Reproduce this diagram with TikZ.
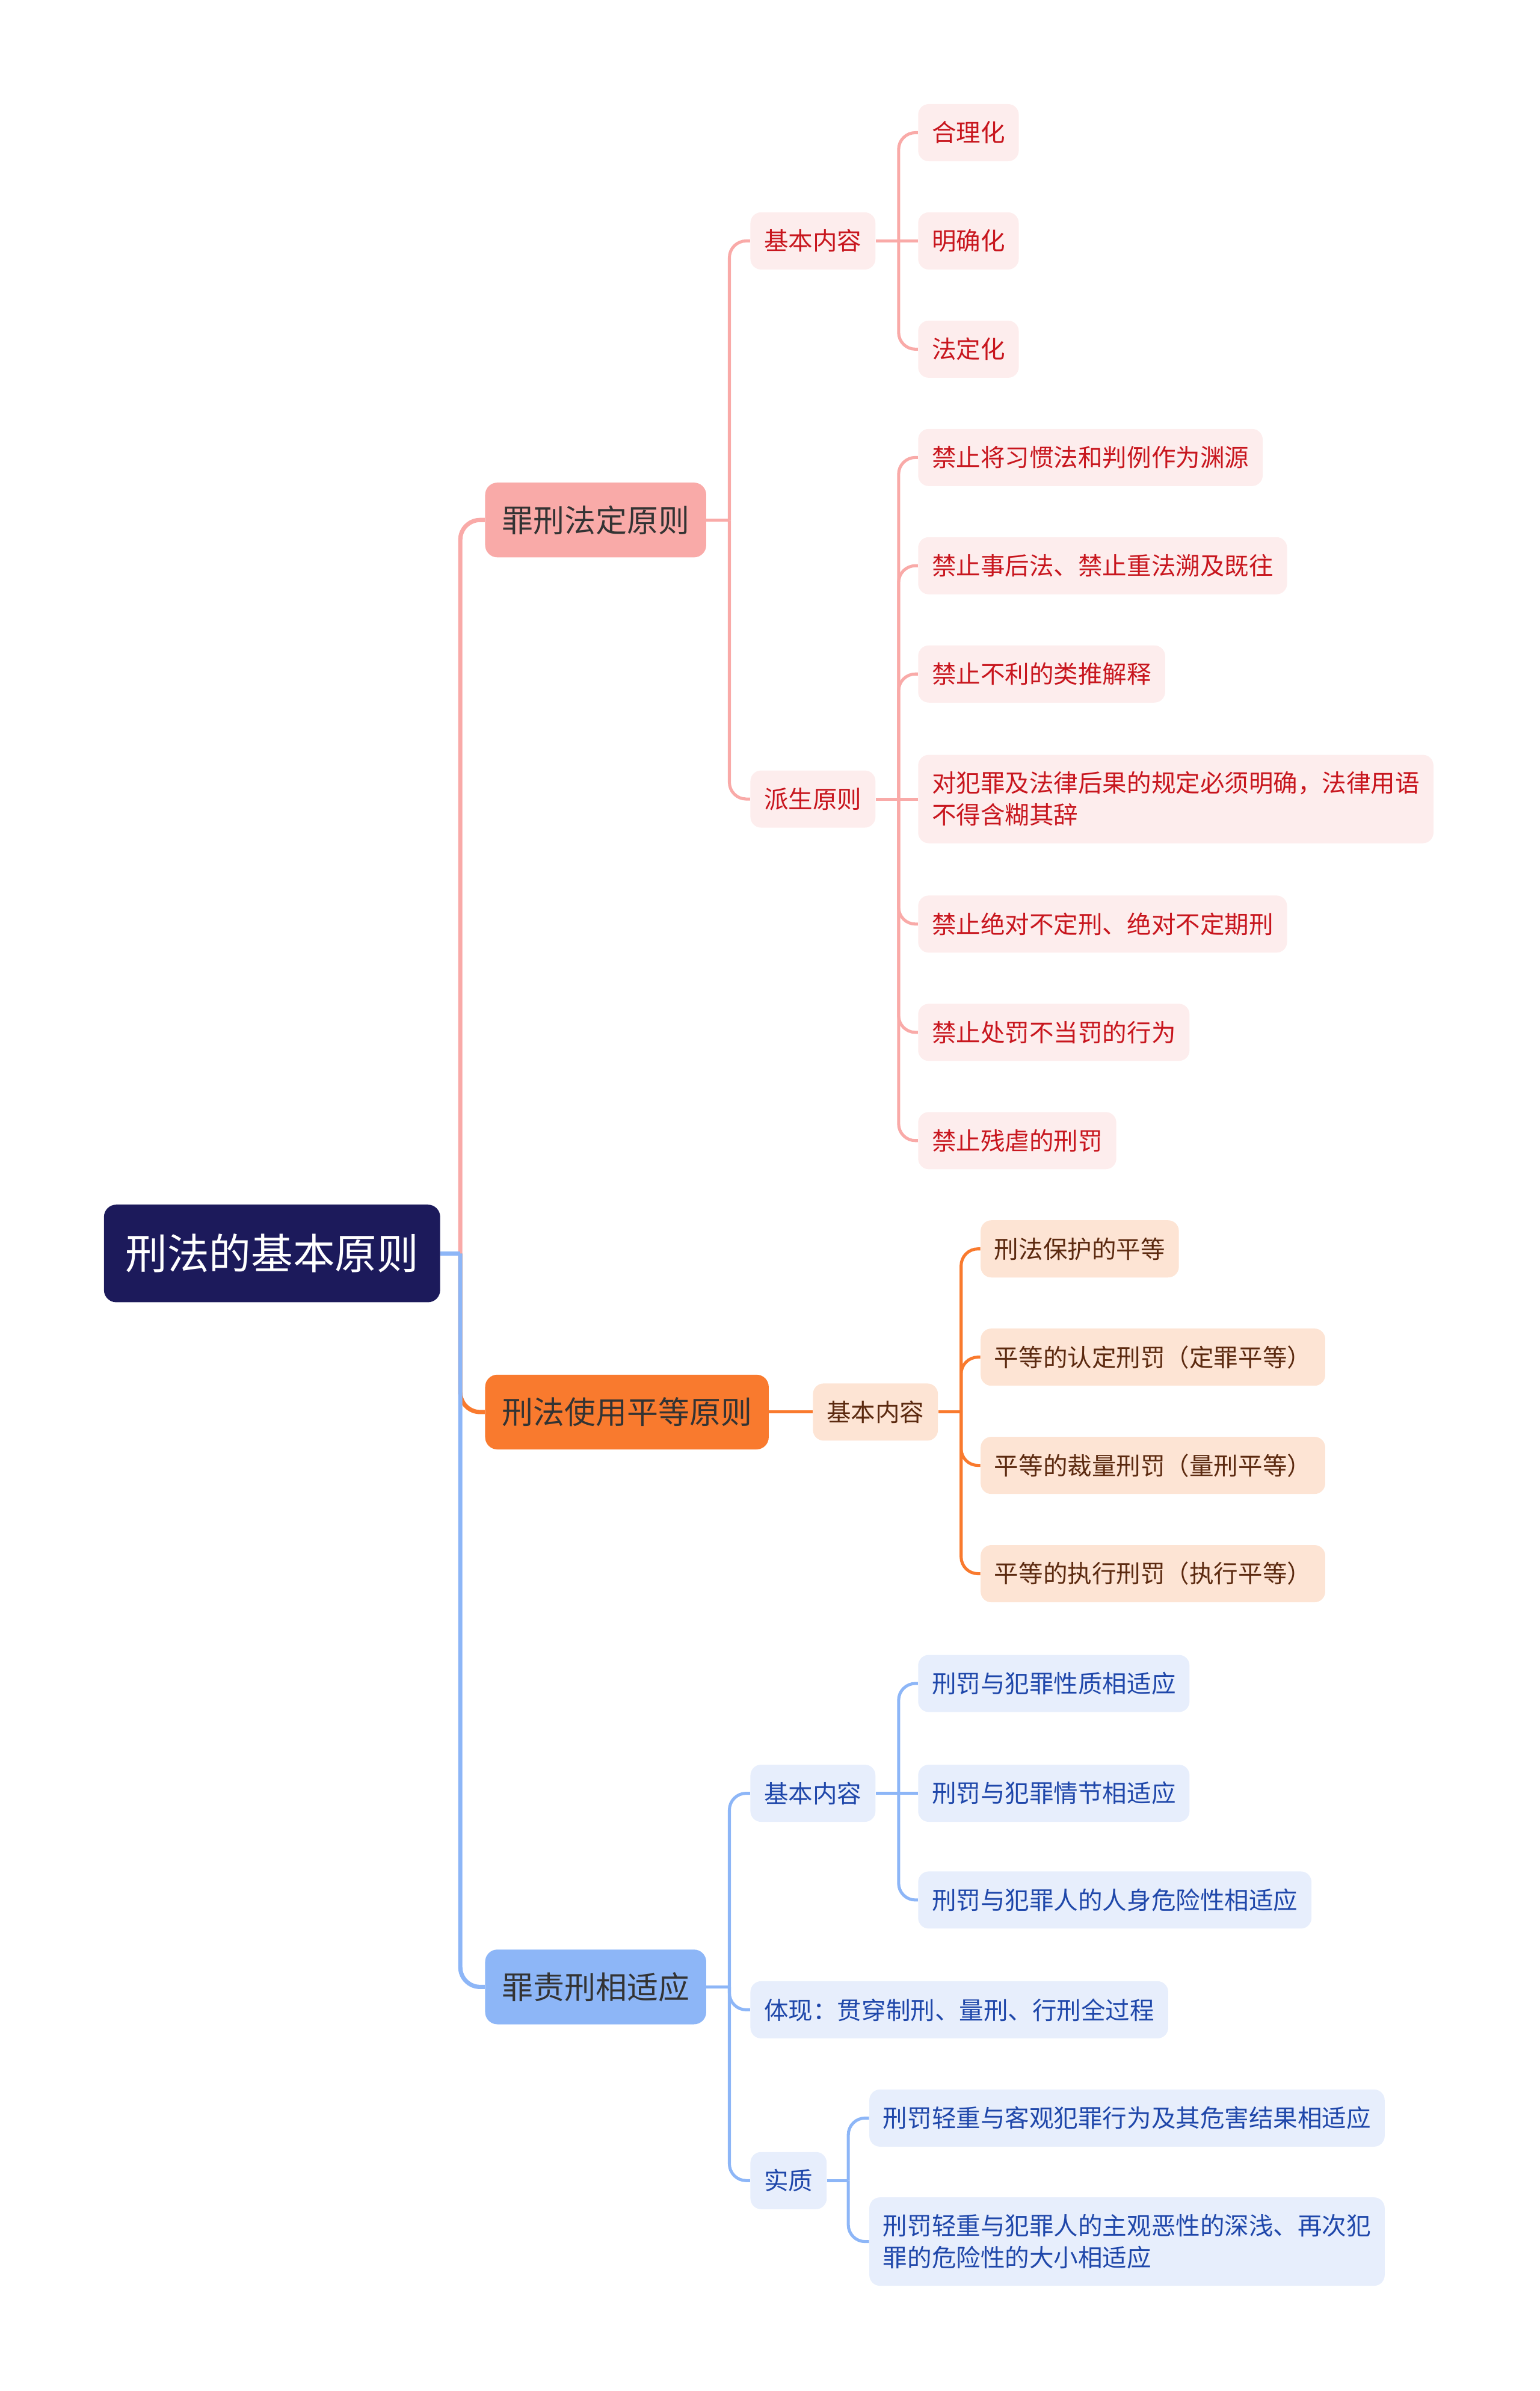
\documentclass[tikz,border=0pt]{standalone}
\usepackage{fontspec}
\setmainfont{Noto Sans CJK SC}
\definecolor{rootc}{HTML}{1C1A5B}
\definecolor{pinkc}{HTML}{F9AAA8}
\definecolor{pinkl}{HTML}{FDEDED}
\definecolor{redt}{HTML}{C8161E}
\definecolor{orc}{HTML}{F97A2E}
\definecolor{orl}{HTML}{FDE4D4}
\definecolor{ort}{HTML}{5C2A10}
\definecolor{bluec}{HTML}{8DB6F7}
\definecolor{bluel}{HTML}{E7EEFC}
\definecolor{bluet}{HTML}{1F47AA}
\definecolor{darkt}{HTML}{333333}
\tikzset{
  rootbox/.style={rectangle, rounded corners=8pt, fill=rootc, text=white,
    font=\fontsize{27.5}{33}\selectfont, minimum height=64pt, inner xsep=14pt, anchor=west},
  lonebox/.style={rectangle, rounded corners=8pt, minimum height=49pt, inner xsep=11pt,
    font=\fontsize{20.5}{25}\selectfont, text=darkt, anchor=west},
  ltwobox/.style={rectangle, rounded corners=7pt, minimum height=37.5pt, inner xsep=9pt,
    font=\fontsize{16}{21}\selectfont, anchor=west, align=left},
  pinkleaf/.style={ltwobox, fill=pinkl, text=redt},
  orleaf/.style={ltwobox, fill=orl, text=ort},
  blueleaf/.style={ltwobox, fill=bluel, text=bluet},
  twoline/.style={minimum height=58pt},
  thickline/.style={line width=2.8pt, rounded corners=13pt},
  thinline/.style={line width=2pt, rounded corners=11pt},
}
\begin{document}
\begin{tikzpicture}[x=1pt,y=-1pt]
\useasboundingbox (0,0) rectangle (1010,1568);

% root
\node[rootbox] (root) at (68,822) {刑法的基本原则};

% level 1
\node[lonebox, fill=pinkc] (p) at (318,341) {罪刑法定原则};
\node[lonebox, fill=orc] (o) at (318,926) {刑法使用平等原则};
\node[lonebox, fill=bluec] (b) at (318,1303) {罪责刑相适应};

% level 2
\node[pinkleaf] (p1) at (492,158) {基本内容};
\node[pinkleaf] (p2) at (492,524) {派生原则};
\node[orleaf] (o1) at (533,926) {基本内容};
\node[blueleaf] (b1) at (492,1176) {基本内容};
\node[blueleaf] (b2) at (492,1318) {体现：贯穿制刑、量刑、行刑全过程};
\node[blueleaf] (b3) at (492,1430) {实质};

% leaves pink
\node[pinkleaf] (p11) at (602,87) {合理化};
\node[pinkleaf] (p12) at (602,158) {明确化};
\node[pinkleaf] (p13) at (602,229) {法定化};
\node[pinkleaf] (p21) at (602,300) {禁止将习惯法和判例作为渊源};
\node[pinkleaf] (p22) at (602,371) {禁止事后法、禁止重法溯及既往};
\node[pinkleaf] (p23) at (602,442) {禁止不利的类推解释};
\node[pinkleaf, twoline] (p24) at (602,524) {对犯罪及法律后果的规定必须明确，法律用语\\不得含糊其辞};
\node[pinkleaf] (p25) at (602,606) {禁止绝对不定刑、绝对不定期刑};
\node[pinkleaf] (p26) at (602,677) {禁止处罚不当罚的行为};
\node[pinkleaf] (p27) at (602,748) {禁止残虐的刑罚};

% leaves orange
\node[orleaf] (o11) at (643,819) {刑法保护的平等};
\node[orleaf] (o12) at (643,890) {平等的认定刑罚（定罪平等）};
\node[orleaf] (o13) at (643,961) {平等的裁量刑罚（量刑平等）};
\node[orleaf] (o14) at (643,1032) {平等的执行刑罚（执行平等）};

% leaves blue
\node[blueleaf] (b11) at (602,1104) {刑罚与犯罪性质相适应};
\node[blueleaf] (b12) at (602,1176) {刑罚与犯罪情节相适应};
\node[blueleaf] (b13) at (602,1246) {刑罚与犯罪人的人身危险性相适应};
\node[blueleaf] (b31) at (570,1389) {刑罚轻重与客观犯罪行为及其危害结果相适应};
\node[blueleaf, twoline] (b32) at (570,1470) {刑罚轻重与犯罪人的主观恶性的深浅、再次犯\\罪的危险性的大小相适应};

% root connectors
\path (root.east) -- ++(13,0) coordinate (rs);
\draw[thickline, orc] (rs) |- (o.west);
\draw[thickline, pinkc] (rs) |- (p.west);
\draw[thickline, bluec] (rs) |- (b.west);
\draw[line width=2.8pt, bluec] (root.east) -- (rs);

% pink branch
\draw[thinline, pinkc] (p.east) -- ++(15,0) coordinate (pj);
\draw[thinline, pinkc] (pj) |- (p1.west);
\draw[thinline, pinkc] (pj) |- (p2.west);
\draw[thinline, pinkc] (p1.east) -- ++(15,0) coordinate (p1j);
\draw[thinline, pinkc] (p1j) |- (p11.west);
\draw[thinline, pinkc] (p1j) -- (p12.west);
\draw[thinline, pinkc] (p1j) |- (p13.west);
\draw[thinline, pinkc] (p2.east) -- ++(15,0) coordinate (p2j);
\foreach \n in {p21,p22,p23,p25,p26,p27}{
  \draw[thinline, pinkc] (p2j) |- (\n.west);
}
\draw[thinline, pinkc] (p2j) -- (p24.west);

% orange branch
\draw[thinline, orc] (o.east) -- (o1.west);
\draw[thinline, orc] (o1.east) -- ++(15,0) coordinate (o1j);
\foreach \n in {o11,o12,o13,o14}{
  \draw[thinline, orc] (o1j) |- (\n.west);
}

% blue branch
\draw[thinline, bluec] (b.east) -- ++(15,0) coordinate (bj);
\draw[thinline, bluec] (bj) |- (b1.west);
\draw[thinline, bluec] (bj) |- (b2.west);
\draw[thinline, bluec] (bj) |- (b3.west);
\draw[thinline, bluec] (b1.east) -- ++(15,0) coordinate (b1j);
\draw[thinline, bluec] (b1j) |- (b11.west);
\draw[thinline, bluec] (b1j) -- (b12.west);
\draw[thinline, bluec] (b1j) |- (b13.west);
\draw[thinline, bluec] (b3.east) -- ++(14,0) coordinate (b3j);
\draw[thinline, bluec] (b3j) |- (b31.west);
\draw[thinline, bluec] (b3j) |- (b32.west);
\end{tikzpicture}
\end{document}
